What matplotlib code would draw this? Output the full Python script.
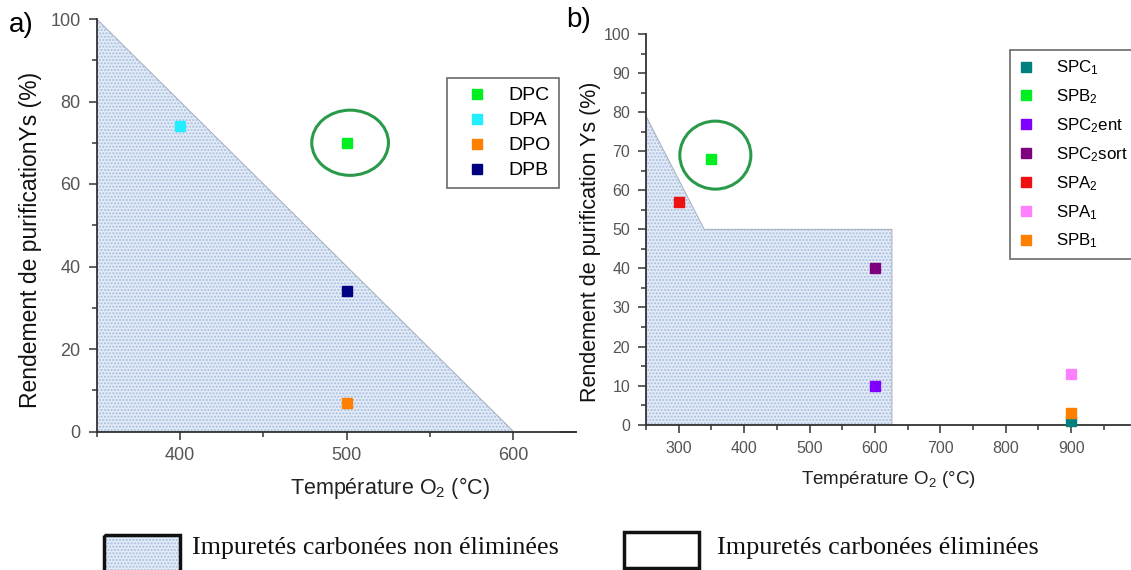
import matplotlib
matplotlib.use("Agg")
import matplotlib.pyplot as plt
from matplotlib.patches import Polygon, Rectangle, Ellipse
from matplotlib.ticker import MultipleLocator

plt.rcParams['font.family'] = ['Liberation Sans', 'DejaVu Sans']
plt.rcParams['mathtext.default'] = 'regular'

# ---- data panel a ----
a_labels = ['DPC', 'DPA', 'DPO', 'DPB']
a_temp = [500, 400, 500, 500]
a_yield = [70, 74, 7, 34]
a_colors = ['#00ee22', '#22eeff', '#ff7f00', '#000080']
a_zone_x = [350, 600, 350]
a_zone_y = [100, 0, 0]

# ---- data panel b ----
b_labels = ['SPC$_1$', 'SPB$_2$', 'SPC$_2$ent', 'SPC$_2$sort', 'SPA$_2$', 'SPA$_1$', 'SPB$_1$']
b_temp = [900, 350, 600, 600, 300, 900, 900]
b_yield = [1, 68, 10, 40, 57, 13, 3]
b_colors = ['#007f7f', '#00ee22', '#7f00ff', '#7f007f', '#ee1111', '#ff80ff', '#ff7f00']
b_zone_x = [250, 339, 626, 626, 250]
b_zone_y = [79, 50, 50, 0, 0]

fill_face = '#e3ebf7'
fill_hatch = '#a6bddf'
circle_color = '#2a9a4a'
axis_color = '#333333'
tick_label_color = '#555555'

W, H = 1131, 570
fig = plt.figure(figsize=(W / 100, H / 100), dpi=100)


def px_axes(x0, y0, x1, y1):
    return fig.add_axes([x0 / W, 1 - y1 / H, (x1 - x0) / W, (y1 - y0) / H])


def style_axes(ax, labelsize):
    for s in ['top', 'right']:
        ax.spines[s].set_visible(False)
    for s in ['left', 'bottom']:
        ax.spines[s].set_color(axis_color)
        ax.spines[s].set_linewidth(1.3)
    ax.tick_params(which='both', direction='out', colors=axis_color,
                   labelcolor=tick_label_color, labelsize=labelsize)
    ax.tick_params(which='major', length=5.5, width=1.1, pad=6)
    ax.tick_params(which='minor', length=3.5, width=1.1)
    ax.spines['left'].set_bounds(0, 100)


def zone(ax, xs, ys):
    pts = list(zip(xs, ys))
    ax.add_patch(Polygon(pts, closed=True, facecolor=fill_face, edgecolor=fill_hatch,
                         hatch='.....', linewidth=0, zorder=1))
    ax.add_patch(Polygon(pts, closed=True, facecolor='none', edgecolor='#a4adbb',
                         linewidth=0.7, zorder=1.1))


# ---- panel a ----
ax1 = px_axes(96.7, 19, 576, 431.5)
ax1.set_xlim(350, 637.5)
ax1.set_ylim(0, 100)
zone(ax1, a_zone_x, a_zone_y)
for lab, x, y, c in zip(a_labels, a_temp, a_yield, a_colors):
    ax1.plot([x], [y], 's', color=c, ms=7.5, mec=c, label=lab, zorder=3, clip_on=False)
ax1.add_patch(Ellipse((a_temp[0] + 2, a_yield[0]), 46, 15.8, facecolor='none',
                      edgecolor=circle_color, linewidth=2.2, zorder=4))
style_axes(ax1, 13)
ax1.xaxis.set_major_locator(MultipleLocator(100))
ax1.xaxis.set_minor_locator(MultipleLocator(50))
ax1.yaxis.set_major_locator(MultipleLocator(20))
ax1.yaxis.set_minor_locator(MultipleLocator(10))
ax1.set_xlabel('Température O$_2$ (°C)', fontsize=15.5, color='#222222')
ax1.xaxis.set_label_coords(0.612, -0.137)
ax1.xaxis.label.set_va('center')
ax1.set_ylabel('Rendement de purificationYs (%)', fontsize=16.5, color='#111111')
ax1.yaxis.set_label_coords(-0.139, 0.464)
ax1.yaxis.label.set_va('center')
leg1 = ax1.legend(loc='upper left', bbox_to_anchor=(447 / W, 1 - 78 / H),
                  bbox_transform=fig.transFigure, borderaxespad=0, fontsize=14,
                  frameon=True, fancybox=False, edgecolor='#444444', handlelength=2.2,
                  handletextpad=0.5, borderpad=0.45, labelspacing=0.38)
leg1.get_frame().set_linewidth(1.2)
fig.text(9 / W, 1 - 25 / H, 'a)', fontsize=20, va='center', ha='left')

# ---- panel b ----
ax2 = px_axes(646, 34, 1130, 424.7)
ax2.set_xlim(250, 990)
ax2.set_ylim(0, 100)
zone(ax2, b_zone_x, b_zone_y)
for lab, x, y, c in zip(b_labels, b_temp, b_yield, b_colors):
    ax2.plot([x], [y], 's', color=c, ms=6.5, mec=c, label=lab, zorder=3, clip_on=False)
ax2.add_patch(Ellipse((b_temp[1] + 6, b_yield[1] + 1), 108.6, 17.4, facecolor='none',
                      edgecolor=circle_color, linewidth=2.2, zorder=4))
style_axes(ax2, 11.5)
ax2.xaxis.set_major_locator(MultipleLocator(100))
ax2.xaxis.set_minor_locator(MultipleLocator(50))
ax2.yaxis.set_major_locator(MultipleLocator(10))
ax2.yaxis.set_minor_locator(MultipleLocator(5))
ax2.set_xlabel('Température O$_2$ (°C)', fontsize=13.5, color='#222222')
ax2.xaxis.set_label_coords(0.5, -0.1415)
ax2.xaxis.label.set_va('center')
ax2.set_ylabel('Rendement de purification Ys (%)', fontsize=15.5, color='#111111')
ax2.yaxis.set_label_coords(-0.114, 0.469)
ax2.yaxis.label.set_va('center')
leg2 = ax2.legend(loc='upper left', bbox_to_anchor=(1010 / W, 1 - 50 / H),
                  bbox_transform=fig.transFigure, borderaxespad=0, fontsize=12.2,
                  frameon=True, fancybox=False, edgecolor='#444444', handlelength=0.9,
                  handletextpad=1.3, borderpad=0.5, labelspacing=0.6)
leg2.get_frame().set_linewidth(1.2)
fig.text(566 / W, 1 - 20 / H, 'b)', fontsize=20, va='center', ha='left')

# ---- bottom legend ----
leg_ax = fig.add_axes([0, 0, 1, 1], facecolor='none')
leg_ax.set_xlim(0, W)
leg_ax.set_ylim(H, 0)
leg_ax.axis('off')
leg_ax.plot([560, 576], [432, 432], color='#333333', lw=1.2)
leg_ax.add_patch(Rectangle((104, 535), 76, 40, facecolor=fill_face, edgecolor=fill_hatch,
                           hatch='.....', linewidth=0))
leg_ax.add_patch(Rectangle((104, 535), 76, 40, facecolor='none', edgecolor='#111111', linewidth=2.5))
leg_ax.add_patch(Rectangle((624, 532), 75, 36, facecolor='white', edgecolor='#111111', linewidth=2.5))
leg_ax.text(192, 548, 'Impuretés carbonées non éliminées', family=['Liberation Serif', 'DejaVu Serif'],
            fontsize=18.7, va='center', ha='left', color='#111111')
leg_ax.text(717, 548, 'Impuretés carbonées éliminées', family=['Liberation Serif', 'DejaVu Serif'],
            fontsize=18.8, va='center', ha='left', color='#111111')

fig.savefig('out.png', dpi=100)
